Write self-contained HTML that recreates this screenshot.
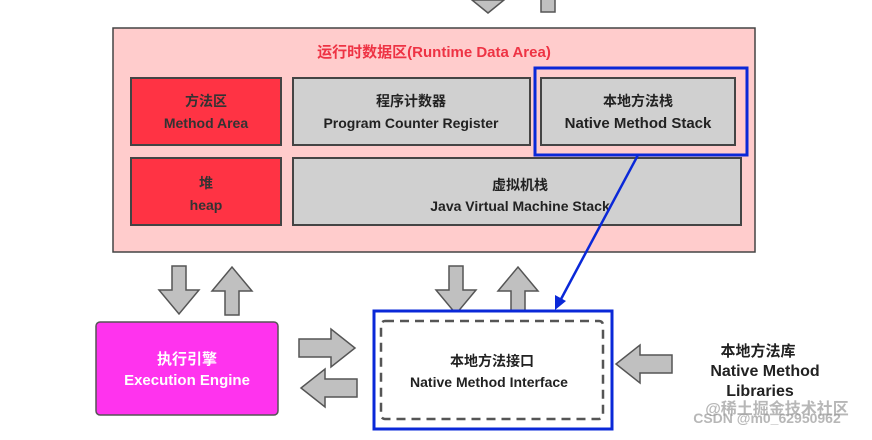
<!DOCTYPE html>
<html><head><meta charset="utf-8"><style>
body{margin:0;background:#fff;width:872px;height:435px;overflow:hidden}
text{font-family:"Liberation Sans","Noto Sans CJK SC",sans-serif;font-weight:bold;text-anchor:middle}
</style></head><body>
<svg width="872" height="435" viewBox="0 0 872 435">
<defs>
<g id="ad"><polygon points="-7,0 7,0 7,24 20,24 0,48 -20,24 -7,24" fill="#c0c0c0" stroke="#555" stroke-width="1.5"/></g>
<g id="ah"><polygon points="-9,0 9,0 9,32 19,32 0,56 -19,32 -9,32" fill="#c0c0c0" stroke="#555" stroke-width="1.5"/></g>
</defs>
<polygon points="472,0 504,0 488,13" fill="#c0c0c0" stroke="#555" stroke-width="1.5"/>
<rect x="541" y="-2" width="14" height="14" fill="#c0c0c0" stroke="#555" stroke-width="1.5"/>
<rect x="113" y="28" width="642" height="224" fill="#ffcccc" stroke="#444" stroke-width="1.5"/>
<text x="434" y="57" fill="#ee3344" font-weight="normal" font-size="15">运行时数据区(Runtime Data Area)</text>
<rect x="131" y="78" width="150" height="67" fill="#ff3344" stroke="#444" stroke-width="2"/>
<text x="206" y="106" fill="#333" font-size="14">方法区</text><text x="206" y="128" fill="#333" font-size="14">Method Area</text>
<rect x="293" y="78" width="237" height="67" fill="#d0d0d0" stroke="#444" stroke-width="2"/>
<text x="411" y="106" fill="#222" font-size="14">程序计数器</text><text x="411" y="128" fill="#222" font-size="14">Program Counter Register</text>
<rect x="541" y="78" width="194" height="67" fill="#d0d0d0" stroke="#444" stroke-width="2"/>
<text x="638" y="106" fill="#222" font-size="14">本地方法栈</text><text x="638" y="128" fill="#222" font-size="15">Native Method Stack</text>
<rect x="535" y="68" width="212" height="87" fill="none" stroke="#0a28d8" stroke-width="3"/>
<rect x="131" y="158" width="150" height="67" fill="#ff3344" stroke="#444" stroke-width="2"/>
<text x="206" y="188" fill="#333" font-size="14">堆</text><text x="206" y="210" fill="#333" font-size="14">heap</text>
<rect x="293" y="158" width="448" height="67" fill="#d0d0d0" stroke="#444" stroke-width="2"/>
<text x="520" y="190" fill="#222" font-size="14">虚拟机栈</text><text x="520" y="211" fill="#222" font-size="14">Java Virtual Machine Stack</text>
<use href="#ad" transform="translate(179,266)"/>
<use href="#ad" transform="translate(232,315) rotate(180)"/>
<use href="#ad" transform="translate(456,266)"/>
<use href="#ad" transform="translate(518,315) rotate(180)"/>
<rect x="96" y="322" width="182" height="93" rx="4" fill="#ff33ee" stroke="#555" stroke-width="1.5"/>
<text x="187" y="364" fill="#fff" font-size="15">执行引擎</text><text x="187" y="385" fill="#fff" font-size="15">Execution Engine</text>
<use href="#ah" transform="translate(299,348) rotate(-90)"/>
<use href="#ah" transform="translate(357,388) rotate(90)"/>
<use href="#ah" transform="translate(672,364) rotate(90)"/>
<rect x="374" y="311" width="238" height="118" fill="#fff" stroke="#0a28d8" stroke-width="3"/>
<rect x="381" y="321" width="222" height="98" rx="4" fill="none" stroke="#555" stroke-width="2.5" stroke-dasharray="9,6"/>
<text x="492" y="366" fill="#222" font-size="14">本地方法接口</text><text x="489" y="387" fill="#222" font-size="14">Native Method Interface</text>
<text x="758" y="356" fill="#222" font-size="15">本地方法库</text>
<text x="765" y="376" fill="#222" font-size="16">Native Method</text>
<text x="760" y="396" fill="#222" font-size="16">Libraries</text>
<line x1="638" y1="155" x2="560" y2="301" stroke="#0a28d8" stroke-width="2.5"/>
<polygon points="555,310 555,295 566,301" fill="#0a28d8"/>
<text x="777" y="414" fill="#999" font-weight="normal" font-size="16" opacity="0.7">@稀土掘金技术社区</text>
<text x="767" y="423" fill="#999" font-weight="normal" font-size="14" opacity="0.7">CSDN @m0_62950962</text>
</svg>
</body></html>
